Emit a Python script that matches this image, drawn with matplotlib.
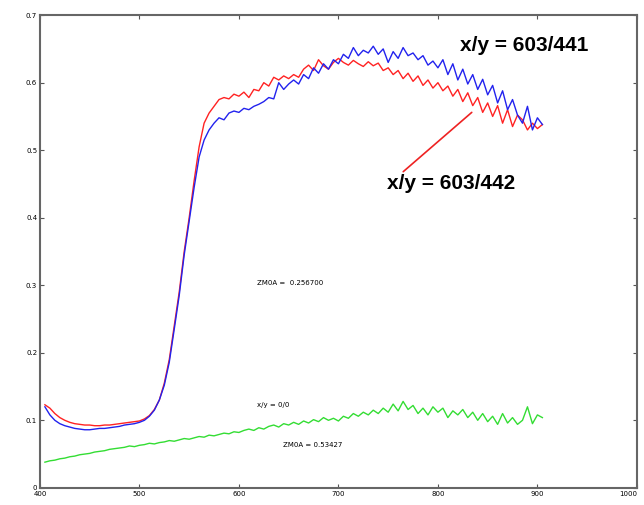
import matplotlib.pyplot as plt
import numpy as np

wavelength = np.arange(405, 906, 5)

red_603_442 = [0.123, 0.118, 0.110, 0.104, 0.100, 0.097, 0.095, 0.094, 0.093, 0.093,
               0.092, 0.092, 0.093, 0.093, 0.094, 0.095, 0.096, 0.097, 0.098, 0.099,
               0.102, 0.107, 0.116, 0.130, 0.155, 0.190, 0.240, 0.290, 0.350, 0.400,
               0.455, 0.505, 0.540, 0.555, 0.565, 0.575, 0.578, 0.576, 0.583, 0.580,
               0.586, 0.578, 0.590, 0.588, 0.600, 0.595, 0.608, 0.604, 0.610, 0.606,
               0.612, 0.608, 0.620, 0.626, 0.618, 0.634, 0.625, 0.620, 0.630, 0.636,
               0.630, 0.626, 0.633, 0.628, 0.624, 0.631, 0.625, 0.629, 0.618, 0.622,
               0.612, 0.618, 0.606, 0.614, 0.602, 0.610, 0.596, 0.604, 0.592, 0.600,
               0.588, 0.595, 0.580, 0.590, 0.572, 0.585, 0.566, 0.578, 0.556, 0.570,
               0.550, 0.566, 0.540, 0.560, 0.535, 0.552, 0.545, 0.530, 0.540, 0.532,
               0.538]

blue_603_441 = [0.120, 0.108, 0.100, 0.095, 0.092, 0.090, 0.088, 0.087, 0.086, 0.086,
                0.087, 0.088, 0.088, 0.089, 0.090, 0.091, 0.093, 0.094, 0.095, 0.097,
                0.100, 0.106, 0.115, 0.130, 0.152, 0.186, 0.235, 0.285, 0.345, 0.395,
                0.445, 0.490, 0.515, 0.530, 0.540, 0.548, 0.545, 0.555, 0.558, 0.556,
                0.562, 0.560, 0.565, 0.568, 0.572, 0.578, 0.576, 0.600, 0.590, 0.598,
                0.604, 0.598, 0.612, 0.606, 0.622, 0.614, 0.628, 0.620, 0.634, 0.628,
                0.642, 0.636, 0.652, 0.640, 0.648, 0.644, 0.654, 0.642, 0.650, 0.630,
                0.646, 0.636, 0.652, 0.640, 0.644, 0.634, 0.640, 0.626, 0.632, 0.622,
                0.634, 0.612, 0.628, 0.604, 0.620, 0.598, 0.612, 0.590, 0.605, 0.582,
                0.596, 0.570, 0.588, 0.560, 0.575, 0.552, 0.540, 0.565, 0.530, 0.548,
                0.538]

green_0_0 = [0.038, 0.040, 0.041, 0.043, 0.044, 0.046, 0.047, 0.049, 0.050, 0.051,
             0.053, 0.054, 0.055, 0.057, 0.058, 0.059, 0.060, 0.062, 0.061, 0.063,
             0.064, 0.066, 0.065, 0.067, 0.068, 0.070, 0.069, 0.071, 0.073, 0.072,
             0.074, 0.076, 0.075, 0.078, 0.077, 0.079, 0.081, 0.080, 0.083, 0.082,
             0.085, 0.087, 0.085, 0.089, 0.087, 0.091, 0.093, 0.090, 0.095, 0.093,
             0.097, 0.094, 0.099, 0.096, 0.101, 0.098, 0.104, 0.100, 0.103, 0.099,
             0.106, 0.103, 0.110, 0.106, 0.112, 0.108, 0.115, 0.110, 0.118, 0.112,
             0.124, 0.114, 0.128, 0.116, 0.122, 0.110, 0.118, 0.108, 0.120, 0.112,
             0.118, 0.104, 0.114, 0.108, 0.116, 0.104, 0.112, 0.100, 0.110, 0.098,
             0.106, 0.094, 0.110, 0.096, 0.104, 0.094, 0.100, 0.120, 0.095, 0.108,
             0.104]

x_ticks = [400, 500, 600, 700, 800, 900, 1000]
y_ticks = [0, 0.1, 0.2, 0.3, 0.4, 0.5, 0.6, 0.7]
y_tick_labels = ['0', '0.1', '0.2', '0.3', '0.4', '0.5', '0.6', '0.7']

fig = plt.figure(figsize=(6.44, 5.05), dpi=100)
ax = fig.add_axes([0.062, 0.034, 0.927, 0.936])

ax.plot(wavelength, green_0_0, color='#33dd33', lw=1)
ax.plot(wavelength, red_603_442, color='#ff2222', lw=1)
ax.plot(wavelength, blue_603_441, color='#2222ee', lw=1)

ax.set_xlim(400, 1000)
ax.set_ylim(0, 0.7)
ax.set_xticks(x_ticks)
ax.set_yticks(y_ticks)
ax.set_yticklabels(y_tick_labels)
ax.tick_params(direction='in', top=True, right=True, labelsize=5, length=3,
               color='#555555', pad=2)
# keep the last x label inside the canvas
ax.get_xticklabels()[-1].set_horizontalalignment('right')
for s in ax.spines.values():
    s.set_color('#666666')
    s.set_linewidth(1.5)

ax.text(822, 0.655, 'x/y = 603/441', fontsize=15, fontweight='bold',
        family='Liberation Sans', va='center')
ax.annotate('x/y = 603/442', xy=(834, 0.556), xytext=(749, 0.45),
            fontsize=15, fontweight='bold', family='Liberation Sans', va='center',
            arrowprops=dict(arrowstyle='-', color='#ee2222', lw=1.2,
                            shrinkA=0, shrinkB=0, relpos=(0.1, 1.0)))
ax.text(618, 0.303, 'ZM0A =  0.256700', fontsize=5, va='center')
ax.text(618, 0.123, 'x/y = 0/0', fontsize=5, va='center')
ax.text(644, 0.064, 'ZM0A = 0.53427', fontsize=5, va='center')

fig.savefig('out.png', dpi=100)
